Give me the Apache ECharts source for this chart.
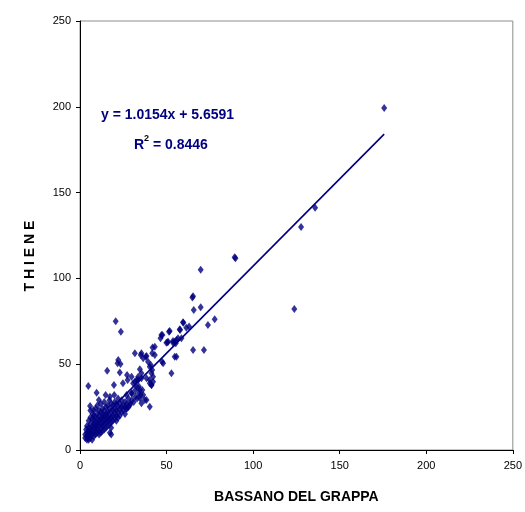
<!DOCTYPE html>
<html><head><meta charset="utf-8">
<script src="https://cdn.jsdelivr.net/npm/echarts@6/dist/echarts.min.js"></script>
<style>html,body{margin:0;padding:0;background:#fff}#c{width:525px;height:512px}</style>
</head><body><div id="c"></div>
<script>
// Bassano del Grappa (x) vs Thiene (y)
const bassano = [
 3,3,3.5,4,4,4,4,4.5,5,5,5,5,5,5.5,6,6,6,6,6,6,
 7,7,7,7,7,7.5,8,8,8,8,8,8,9,9,9,9,9,9,10,10,10,10,10,10,
 11,11,11,11,11,11,12,12,12,12,12,12,13,13,13,13,13,13,14,14,14,14,14,14,
 15,15,15,15,15,16,16,16,16,16,17,17,17,17,17,18,18,18,18,18,18,
 19,19,19,19,20,20,20,20,21,21,21,21,22,22,22,22,
 23,23,23,24,24,24,25,25,26,26,26,27,27,28,28,29,30,30,31,32,32,33,34,34,35,36,
 4.8,9.6,14.8,17.3,19.8,10.9,5.8,7.7,17.3,15.7,22.1,21.7,23.4,23,20.6,23.6,24.8,19.6,
 27.2,27.5,29.8,31.7,33.6,35.5,42.2,41.3,36.5,34.6,38.4,35.5,40.3,26.9,29.8,32.7,34.6,37.4,26.9,28.8,
 31.7,35.5,38,43.2,39.3,40.3,48,55.7,52.8,34.6,35.5,41.3,42.2,40.3,30.7,32.7,33.6,40.3,41.3,
 38.4,36.5,35.1,40.9,41.7,38.4,41.9,41.7,43.2,47.4,54.7,
 47.6,46.5,51.4,49.9,53.7,55.7,57.8,59.7,63,61.4,57.6,51.8,47,50.5,58.6,53.7,50.9,55.3,56.6,54.7,
 65.3,71.6,65.7,69.7,73.9,77.8,59.5,64.9,65.3,69.7,
 89.3,89.8,123.8,127.7,135.8,175.7
];
const thiene = [
 7,9,12,6,8,10,14,7,6,9,11,13,17,8,7,10,12,15,19,23,
 6,9,11,14,18,21,8,10,13,15,17,20,9,12,14,16,19,24,10,12,15,18,21,26,
 9,11,14,17,20,23,10,13,15,18,22,27,11,14,16,19,21,24,12,15,17,20,23,28,
 13,16,18,21,25,14,17,19,22,26,15,18,20,24,29,13,16,19,22,27,9,
 17,20,23,26,18,21,24,28,17,20,23,27,19,22,25,30,
 20,24,27,22,25,29,23,26,21,25,28,24,27,25,30,27,29,33,28,31,35,30,33,37,32,35,
 37.3,33.4,32,31.1,32,29.1,25.6,23.3,10.1,46.2,52.4,50.5,50.1,45.1,75,68.9,38.9,37.9,
 43.7,40.8,42.7,39.8,40.8,41.8,39.8,37.9,32,30.1,29.1,27.2,25.2,32,33,36.9,35,29.1,24.3,26.2,
 56.4,56.4,54.4,55.4,51.5,48.5,50.5,54.4,44.7,47,44.7,44.7,42.7,40.8,38.9,40.8,42.7,38.9,37.9,
 54.8,53.4,55.4,49.5,46.6,41.8,59.8,56.4,60.2,51.5,63.1,
 67,65.1,68.9,62.5,62.5,64.1,69.9,74.2,71.9,71.3,70.3,69.3,67,62.8,65.1,63.5,63.1,62.2,65.1,54.4,
 58.3,58.3,81.6,83.2,72.8,76.2,74.4,88.8,89.6,105,
 112.3,111.8,82.2,130,141.2,199.3
];
const slope = 1.0154, intercept = 5.6591, r2 = 0.8446;
const trendRange = [3, 175.7];
const xTicks = [0, 50, 100, 150, 200, 250];
const yTicks = [0, 50, 100, 150, 200, 250];
const xTitle = 'BASSANO DEL GRAPPA';
const yTitle = 'T H I E N E';

const points = bassano.map((x, i) => [x, thiene[i]]);
const trend = trendRange.map(x => [x, slope * x + intercept]);
const navy = '#000080';
const chart = echarts.init(document.getElementById('c'), null, {renderer: 'canvas'});
chart.setOption({
  animation: false,
  grid: {left: 80, right: 11, top: 21, bottom: 62, show: true, borderColor: '#8c8c8c', borderWidth: 1, backgroundColor: 'transparent'},
  xAxis: {
    type: 'value', min: xTicks[0], max: xTicks[xTicks.length - 1], interval: 50,
    name: xTitle, nameLocation: 'middle', nameGap: 40,
    nameTextStyle: {fontFamily: 'Liberation Sans', fontWeight: 'bold', fontSize: 14, color: '#000'},
    axisLine: {show: true, lineStyle: {color: '#000', width: 1}},
    axisTick: {show: true, length: 4, lineStyle: {color: '#000'}},
    axisLabel: {fontFamily: 'Liberation Sans', fontSize: 11, color: '#000', margin: 10},
    splitLine: {show: false}
  },
  yAxis: {
    type: 'value', min: yTicks[0], max: yTicks[yTicks.length - 1], interval: 50,
    axisLine: {show: true, lineStyle: {color: '#000', width: 1}},
    axisTick: {show: true, length: 4, lineStyle: {color: '#000'}},
    axisLabel: {fontFamily: 'Liberation Sans', fontSize: 11, color: '#000', margin: 9},
    splitLine: {show: false}
  },
  series: [
    {type: 'scatter', data: points, symbol: 'diamond', symbolSize: [6, 8],
     itemStyle: {color: navy}, z: 3},
    {type: 'line', data: trend, showSymbol: false, symbol: 'none',
     lineStyle: {color: navy, width: 1.6}, z: 2}
  ],
  graphic: [
    {type: 'text', x: 30, y: 256, rotation: Math.PI / 2,
     style: {text: yTitle, font: 'bold 14px "Liberation Sans"', fill: '#000', align: 'center', verticalAlign: 'middle'}},
    {type: 'text', left: 101, top: 108, style: {text: 'y = ' + slope.toFixed(4) + 'x + ' + intercept.toFixed(4),
      font: 'bold 14px "Liberation Sans"', fill: navy}},
    {type: 'text', left: 134, top: 134, style: {text: '{a|R}{s|2}{a| = ' + r2.toFixed(4) + '}',
      rich: {a: {fontFamily: 'Liberation Sans', fontWeight: 'bold', fontSize: 14, fill: navy, color: navy, verticalAlign: 'bottom', lineHeight: 18},
             s: {fontFamily: 'Liberation Sans', fontWeight: 'bold', fontSize: 9, color: navy, verticalAlign: 'top', lineHeight: 18, padding: [0,0,6,0]}}}}
  ]
});
</script></body></html>
